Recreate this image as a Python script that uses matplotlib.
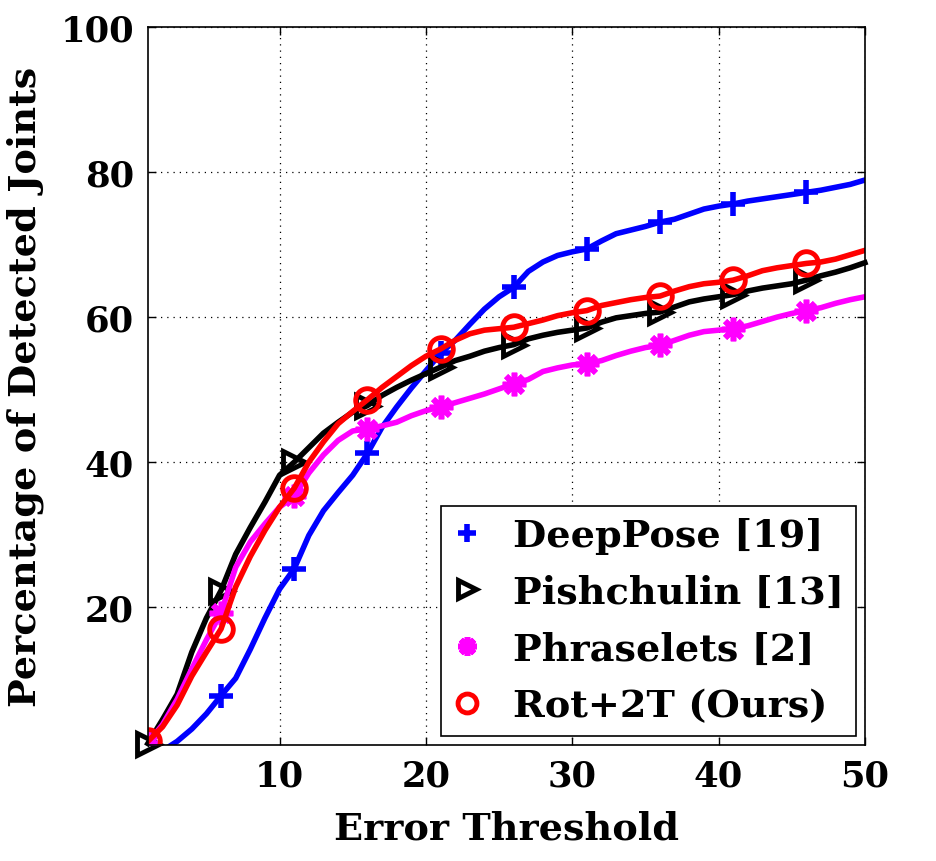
import matplotlib
matplotlib.use("Agg")
import matplotlib.pyplot as plt
from matplotlib.lines import Line2D

thresholds = list(range(1, 51))

deeppose = [0.0, 0.2, 1.5, 3.2, 5.3, 7.8, 10.2, 14.2, 18.5, 22.5,
            25.3, 29.9, 33.3, 35.8, 38.2, 41.2, 44.8, 47.6, 50.2, 52.6,
            55.0, 56.8, 59.0, 61.1, 62.8, 64.1, 66.3, 67.6, 68.5, 69.0,
            69.4, 70.5, 71.5, 72.0, 72.5, 73.1, 73.5, 74.2, 74.9, 75.3,
            75.6, 76.0, 76.3, 76.6, 76.9, 77.2, 77.5, 77.9, 78.3, 78.9]

pishchulin = [1.2, 4.5, 8.0, 13.8, 18.5, 22.3, 27.3, 31.0, 34.5, 38.2,
              40.0, 42.0, 44.0, 45.5, 46.9, 47.8, 49.2, 50.3, 51.3, 52.2,
              53.1, 54.0, 54.6, 55.3, 55.8, 56.2, 57.0, 57.5, 57.9, 58.2,
              58.5, 59.3, 59.9, 60.2, 60.5, 60.7, 61.4, 62.1, 62.5, 62.8,
              63.1, 63.6, 64.0, 64.3, 64.6, 65.1, 65.7, 66.2, 66.8, 67.5]

phraselets = [1.3, 3.8, 7.3, 11.5, 15.5, 19.2, 25.5, 29.0, 31.5, 33.8,
              35.3, 38.5, 41.0, 43.0, 44.3, 44.6, 45.0, 45.5, 46.4, 47.1,
              47.6, 48.2, 48.8, 49.4, 50.1, 50.8, 51.4, 52.5, 53.0, 53.4,
              53.6, 54.0, 54.7, 55.3, 55.8, 56.1, 56.8, 57.5, 58.0, 58.2,
              58.4, 58.8, 59.4, 60.0, 60.5, 60.9, 61.3, 61.9, 62.4, 62.8]

rot2t = [1.5, 3.5, 6.5, 10.5, 13.8, 17.0, 22.8, 27.0, 30.6, 33.8,
         36.4, 40.0, 42.8, 45.3, 47.0, 48.6, 50.3, 51.8, 53.3, 54.6,
         55.6, 56.8, 57.7, 58.2, 58.4, 58.6, 59.1, 59.6, 60.2, 60.6,
         60.9, 61.6, 62.0, 62.4, 62.7, 62.9, 63.6, 64.2, 64.6, 64.8,
         65.1, 65.7, 66.4, 66.8, 67.1, 67.4, 67.6, 68.0, 68.6, 69.2]

labels = ["DeepPose [19]", "Pishchulin [13]", "Phraselets [2]", "Rot+2T (Ours)"]
x_ticks = [10, 20, 30, 40, 50]
y_ticks = [20, 40, 60, 80, 100]

plt.rcParams['font.family'] = ['DejaVu Serif']
plt.rcParams['font.weight'] = 'bold'

fig = plt.figure(figsize=(9.36, 8.62), dpi=100)
ax = fig.add_axes([0.158, 0.1346, 0.766, 0.8329])

asterisk = (8, 2, 0)
styles = [
    dict(color='#0000ff', marker='+', ms=17, mew=4, mfc='#0000ff'),
    dict(color='black', marker='>', ms=16, mew=3.5, mfc='none'),
    dict(color='#ff00ff', marker=asterisk, ms=17, mew=4, mfc='#ff00ff'),
    dict(color='#ff0000', marker='o', ms=17, mew=3.5, mfc='none'),
]
series = [deeppose, pishchulin, phraselets, rot2t]
marks = list(range(0, 50, 5))

handles = []
for data, st, lab in zip(series, styles, labels):
    ax.plot(thresholds, data, color=st['color'], lw=4, marker=st['marker'],
            ms=st['ms'], mew=st['mew'], mfc=st['mfc'], mec=st['color'],
            markevery=marks, clip_on=False if lab == "Pishchulin [13]" else True)
    handles.append(Line2D([], [], color=st['color'], ls='none', marker=st['marker'],
                          ms=st['ms'] * 0.8, mew=st['mew'], mfc=st['mfc'], mec=st['color']))

ax.set_xlim(1, 50)
ax.set_ylim(1, 100)
ax.set_xticks(x_ticks)
ax.set_yticks(y_ticks)
ax.tick_params(direction='in', length=6, width=1, top=True, right=True,
               labelsize=25.5, pad=10)
for lab in ax.get_xticklabels() + ax.get_yticklabels():
    lab.set_fontweight('bold')
ax.grid(True, linestyle=(0, (1, 4)), color='black', lw=0.9)
for sp in ax.spines.values():
    sp.set_linewidth(1.2)

ax.set_xlabel("Error Threshold", fontsize=27.5, fontweight='bold', labelpad=12)
ax.set_ylabel("Percentage of Detected Joints", fontsize=27.5, fontweight='bold', labelpad=12)

leg = ax.legend(handles, labels, loc='lower right', bbox_to_anchor=(0.987, 0.0125),
                frameon=True, fancybox=False, handlelength=0.8,
                handletextpad=0.8, labelspacing=0.52, borderpad=0.3,
                borderaxespad=0, prop={'weight': 'bold', 'size': 27.5})
leg.get_frame().set_edgecolor('black')
leg.get_frame().set_linewidth(1.2)
leg.get_frame().set_alpha(1)

fig.savefig("out.png", dpi=100)
